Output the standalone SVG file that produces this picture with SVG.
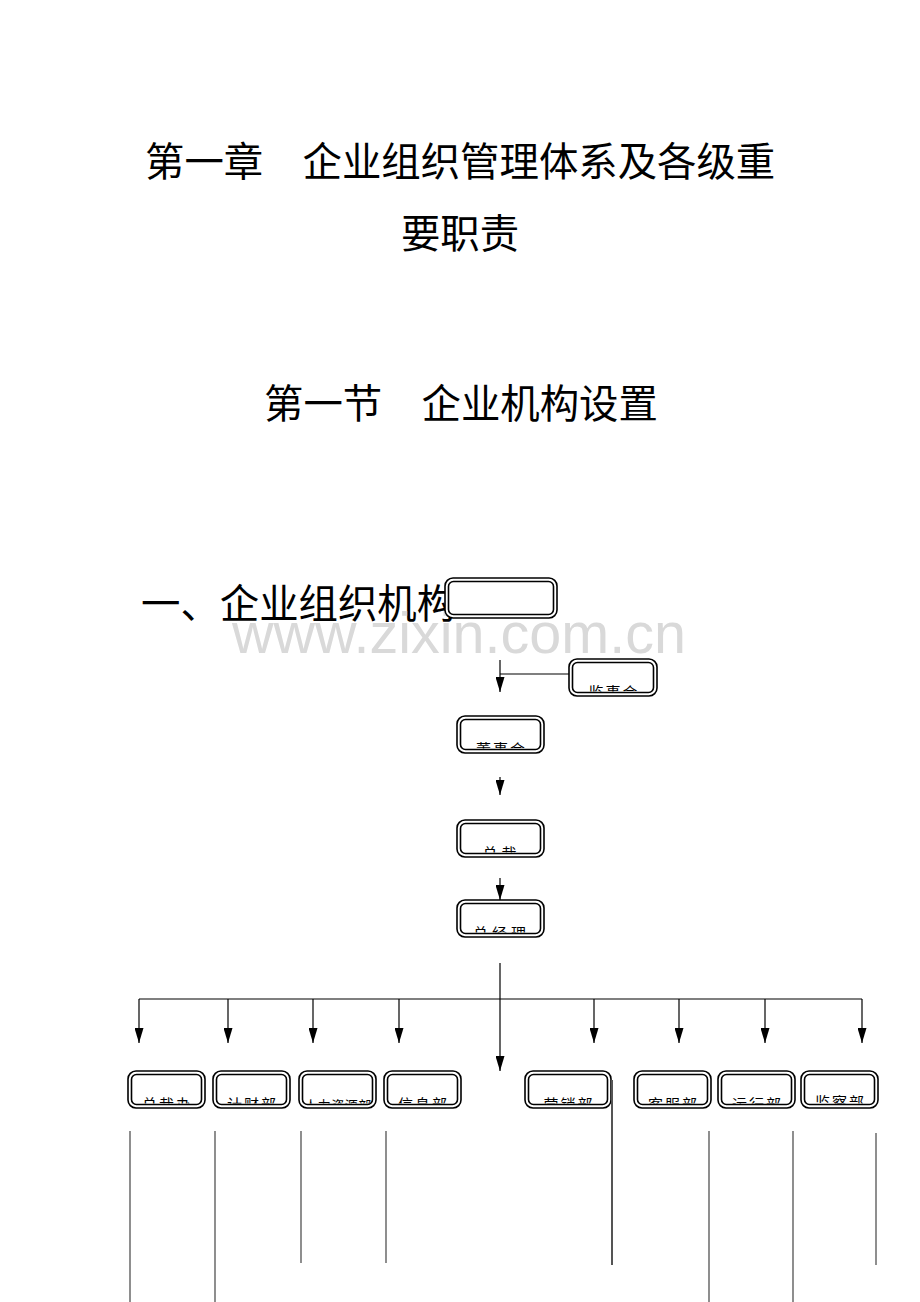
<svg xmlns="http://www.w3.org/2000/svg" width="920" height="1302" viewBox="0 0 920 1302">
<style>
.title{font-family:"Noto Sans CJK SC","Noto Sans",sans-serif;font-size:39.4px;fill:#000}
.wm{font-family:"Liberation Sans",Arial,sans-serif;font-size:58px;fill:#d9d9d9}
.bo{fill:#fff;stroke:#000;stroke-width:1.6}
.bi{fill:none;stroke:#000;stroke-width:1.6}
.bt{font-family:"Noto Sans CJK SC",sans-serif;font-size:15px;letter-spacing:2px;fill:#000;text-anchor:middle}
.con{stroke:#000;stroke-width:1.2;fill:none}
.vl{stroke:#333;stroke-width:1.1;fill:none}
</style>
<defs>
<marker id="ah" viewBox="0 0 15 9" markerWidth="15" markerHeight="9" refX="15" refY="4.5" orient="auto" markerUnits="userSpaceOnUse">
<path d="M0,0 L15,4.5 L0,9 z" fill="#000"/>
</marker>
</defs>
<g id="titles">
<text class="title" x="145" y="176">第一章　企业组织管理体系及各级重</text>
<text class="title" x="460" y="248" text-anchor="middle">要职责</text>
<text class="title" x="264" y="418">第一节　企业机构设置</text>
<text class="title" x="141" y="618">一、企业组织机构</text>
</g>
<text class="wm" x="232" y="653" textLength="454" lengthAdjust="spacingAndGlyphs">www.zixin.com.cn</text>
<g id="connectors">
<path class="con" d="M500,660 V692" marker-end="url(#ah)"/>
<path class="con" d="M500,674 H569"/>
<path class="con" d="M500,777 V795" marker-end="url(#ah)"/>
<path class="con" d="M500,878 V900" marker-end="url(#ah)"/>
<path class="con" d="M500,963 V1071" marker-end="url(#ah)"/>
<path class="con" d="M139,999 H862"/>
<path class="con" d="M139,999 V1043" marker-end="url(#ah)"/>
<path class="con" d="M228,999 V1043" marker-end="url(#ah)"/>
<path class="con" d="M313,999 V1043" marker-end="url(#ah)"/>
<path class="con" d="M399,999 V1043" marker-end="url(#ah)"/>
<path class="con" d="M594,999 V1043" marker-end="url(#ah)"/>
<path class="con" d="M679,999 V1043" marker-end="url(#ah)"/>
<path class="con" d="M765,999 V1043" marker-end="url(#ah)"/>
<path class="con" d="M862,999 V1043" marker-end="url(#ah)"/>
<path class="vl" d="M130,1131 V1302 M215,1131 V1302 M301,1131 V1263 M386,1131 V1263 M709,1131 V1302 M793,1131 V1302"/>
<path class="vl" d="M876,1133 V1265" stroke-width="1.6"/>
</g>
<g id="n-top">
<rect class="bo" x="445" y="578" width="112" height="40" rx="8"/>
<rect class="bi" x="448.5" y="581.5" width="105" height="33" rx="5"/>
</g>
<g id="n-jianshihui">
<rect class="bo" x="569" y="659" width="88" height="37" rx="8"/>
<rect class="bi" x="572.5" y="662.5" width="81" height="30" rx="5"/>
<svg x="573.5" y="663.5" width="79" height="28"><text class="bt" x="40.5" y="34">监事会</text></svg>
</g>
<g id="n-dongshihui">
<rect class="bo" x="457" y="716" width="87" height="37" rx="8"/>
<rect class="bi" x="460.5" y="719.5" width="80" height="30" rx="5"/>
<svg x="461.5" y="720.5" width="78" height="28"><text class="bt" x="40" y="34">董事会</text></svg>
</g>
<g id="n-zongcai">
<rect class="bo" x="457" y="820" width="87" height="37" rx="8"/>
<rect class="bi" x="460.5" y="823.5" width="80" height="30" rx="5"/>
<svg x="461.5" y="824.5" width="78" height="28"><text class="bt" x="40" y="34" style="letter-spacing:4px">总裁</text></svg>
</g>
<g id="n-zongjingli">
<rect class="bo" x="457" y="900" width="87" height="37" rx="8"/>
<rect class="bi" x="460.5" y="903.5" width="80" height="30" rx="5"/>
<svg x="461.5" y="904.5" width="78" height="28"><text class="bt" x="40" y="34" style="letter-spacing:4px">总经理</text></svg>
</g>
<g id="n-zongcaiban">
<rect class="bo" x="128" y="1071" width="77" height="37" rx="8"/>
<rect class="bi" x="131.5" y="1074.5" width="70" height="30" rx="5"/>
<svg x="132.5" y="1075.5" width="68" height="28"><text class="bt" x="35" y="34">总裁办</text></svg>
</g>
<g id="n-jicaibu">
<rect class="bo" x="213" y="1071" width="77" height="37" rx="8"/>
<rect class="bi" x="216.5" y="1074.5" width="70" height="30" rx="5"/>
<svg x="217.5" y="1075.5" width="68" height="28"><text class="bt" x="35" y="34">计财部</text></svg>
</g>
<g id="n-renliziyuanbu">
<rect class="bo" x="299" y="1071" width="77" height="37" rx="8"/>
<rect class="bi" x="302.5" y="1074.5" width="70" height="30" rx="5"/>
<svg x="303.5" y="1075.5" width="68" height="28"><text class="bt" x="34.5" y="34" style="font-size:13px;letter-spacing:0.5px">人力资源部</text></svg>
</g>
<g id="n-xinxibu">
<rect class="bo" x="384" y="1071" width="77" height="37" rx="8"/>
<rect class="bi" x="387.5" y="1074.5" width="70" height="30" rx="5"/>
<svg x="388.5" y="1075.5" width="68" height="28"><text class="bt" x="35" y="34">信息部</text></svg>
</g>
<g id="n-yingxiaobu">
<rect class="bo" x="525" y="1071" width="86" height="37" rx="8"/>
<rect class="bi" x="528.5" y="1074.5" width="79" height="30" rx="5"/>
<svg x="529.5" y="1075.5" width="77" height="28"><text class="bt" x="39.5" y="34">营销部</text></svg>
</g>
<path d="M612,1080 V1265" stroke="#555" stroke-width="2" fill="none"/>
<g id="n-kefubu">
<rect class="bo" x="634" y="1071" width="77" height="37" rx="8"/>
<rect class="bi" x="637.5" y="1074.5" width="70" height="30" rx="5"/>
<svg x="638.5" y="1075.5" width="68" height="28"><text class="bt" x="35" y="34">客服部</text></svg>
</g>
<g id="n-yunxingbu">
<rect class="bo" x="718" y="1071" width="77" height="37" rx="8"/>
<rect class="bi" x="721.5" y="1074.5" width="70" height="30" rx="5"/>
<svg x="722.5" y="1075.5" width="68" height="28"><text class="bt" x="35" y="34">运行部</text></svg>
</g>
<g id="n-jianchabu">
<rect class="bo" x="801" y="1071" width="77" height="37" rx="8"/>
<rect class="bi" x="804.5" y="1074.5" width="70" height="30" rx="5"/>
<svg x="805.5" y="1075.5" width="68" height="28"><text class="bt" x="35" y="32">监察部</text></svg>
</g>
</svg>
